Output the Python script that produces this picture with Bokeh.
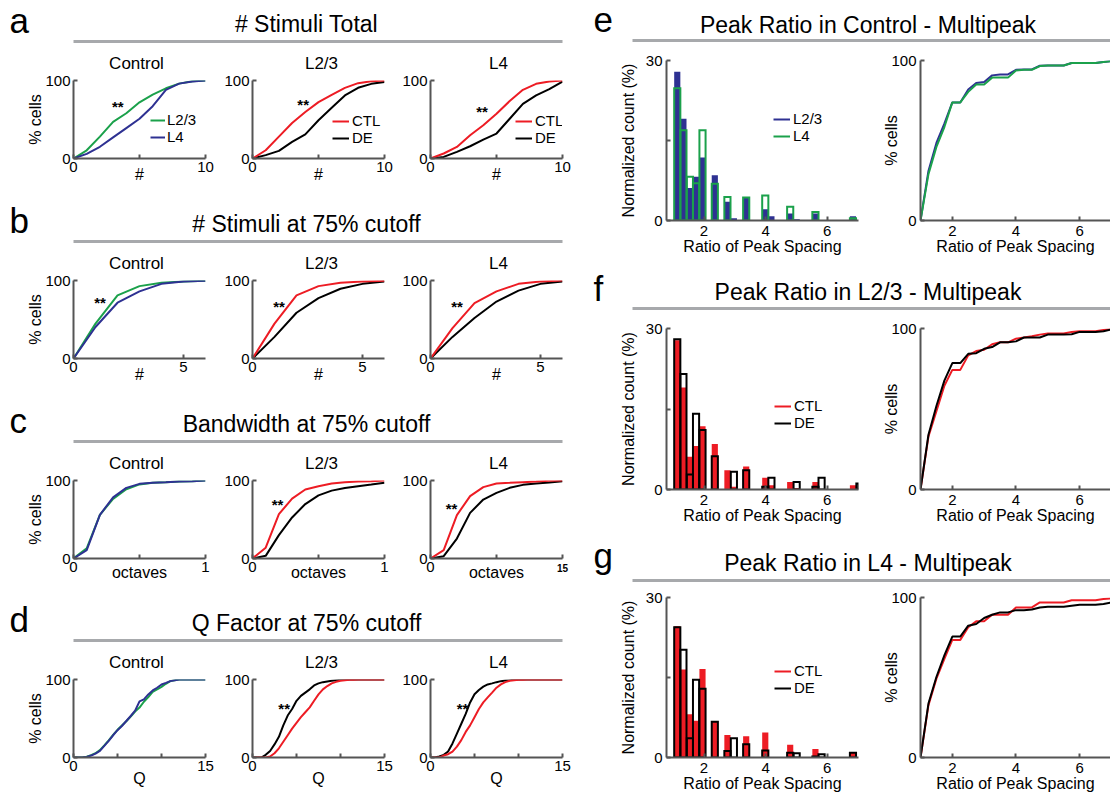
from bokeh.plotting import figure
from bokeh.layouts import row, column
from bokeh.models import Range1d, FixedTicker, Legend, LegendItem, Label, LinearAxis
from bokeh.core.properties import value
from bokeh.embed import file_html
from bokeh.resources import INLINE

FONT = "Liberation Sans"
RED = "#ED1C24"
BLUE = "#2E3192"
GREEN = "#1BA14B"
BLACK = "#000000"
AXIS = "#555555"
RULE = "#A7A9AC"
NAN = float("nan")

# ---------------------------------------------------------------- data
# a: number of stimuli, total
stim_x = [0, 1, 2, 3, 4, 5, 6, 7, 8, 9, 10]
a_ctrl_l23 = [0, 10.5, 28, 47, 58, 72, 82, 90, 96, 99, 100]
a_ctrl_l4 = [0, 6, 15, 27, 39, 51, 67, 88, 96, 98.7, 100]
a_l23_ctl = [0, 10.6, 28, 45.5, 59.6, 72.3, 81.7, 90.6, 96.6, 99, 100]
a_l23_de = [0, 4.3, 9.8, 21.3, 31, 49, 65, 80.9, 90.6, 95.7, 98]
a_l4_ctl = [0, 6.4, 14.9, 29.8, 42.6, 57.4, 73.6, 88, 95.7, 98.7, 100]
a_l4_de = [0, 2, 8.5, 15.7, 24.3, 32, 51, 70, 81, 89, 98.7]

# b: number of stimuli at 75% cutoff
cut_x = [0, 1, 2, 3, 4, 5, 6]
b_ctrl_l23 = [0, 44.7, 80.9, 92.8, 97, 98.7, 99.6]
b_ctrl_l4 = [0, 40.4, 71.5, 86, 95.7, 98.7, 99.6]
b_l23_ctl = [0, 44.7, 80.9, 92.8, 97, 98.7, 99.6]
b_l23_de = [0, 27.7, 58.7, 77.4, 89.4, 95.7, 98.7]
b_l4_ctl = [0, 39, 71, 86, 95.7, 98.7, 100]
b_l4_de = [0, 27.7, 52, 73, 87, 95.7, 98.7]

# c: bandwidth at 75% cutoff (octaves)
oct_x = [0, 0.1, 0.2, 0.3, 0.4, 0.5, 0.6, 0.7, 0.8, 0.9, 1.0]
c_ctrl_l23 = [0, 13, 56, 76.5, 88.8, 95, 97, 97.8, 98.7, 99.1, 100]
c_ctrl_l4 = [0, 10.8, 56, 78.4, 90.5, 95.7, 97, 97.8, 98.7, 99.1, 100]
c_l23_ctl = [0, 13.8, 56.9, 76.7, 88.4, 92.7, 96.1, 97.8, 98.7, 99.1, 100]
c_l23_de = [0, 3.4, 30, 52.6, 69.8, 81, 87, 90.5, 92.7, 94.8, 97]
c_l4_ctl = [0, 10.7, 55.6, 80, 91.5, 96.2, 97, 97.9, 98.7, 99.6, 100]
c_l4_de = [0, 3, 25.6, 58.5, 75.6, 84.2, 90.6, 94.4, 96, 97.4, 99]

# d: Q factor at 75% cutoff
q_x = [0, 0.5, 1, 1.5, 2, 2.5, 3, 3.5, 4, 4.5, 5, 5.5, 6, 6.5, 7, 7.5,
       8, 8.5, 9, 9.5, 10, 10.5, 11, 11.5, 12, 15]
d_ctrl_l23 = [0, 0, 0, 1, 3, 5.5, 9.5, 15.5, 22, 29, 35.5, 41, 46.5, 52.5,
              59, 64, 71.5, 77.4, 84.3, 87.2, 90.6, 94.5, 97.9, 99.1, 100, 100]
d_ctrl_l4 = [0, 0, 0, 0.8, 2.5, 5, 8.5, 14.9, 21.3, 28.5, 35, 40.4, 46.8, 53.2,
             60, 72, 74.5, 80.9, 86, 89.4, 93.6, 95.7, 97.9, 99.1, 100, 100]
d_l23_ctl = [0, 0, 0, 0, 1.3, 5.5, 11.8, 20.2, 28.6, 37, 44.5, 51.7, 58, 64.3,
             72.7, 81, 87.4, 91.6, 95, 97, 98.3, 99, 99.6, 99.8, 100, 100]
d_l23_de = [0, 0, 0, 3.4, 8.4, 16.8, 26.5, 41.2, 53.8, 62.2, 72.7, 79, 83.2, 87.4,
            92.4, 95, 96.6, 97.5, 98.3, 99, 99.6, 99.8, 100, 100, 100, 100]
d_l4_ctl = [0, 0, 0, 2.5, 4.2, 7.6, 13.9, 22.3, 32.8, 41.2, 51.7, 62.2, 70.6, 77,
            83.2, 89.5, 93.7, 96.6, 98.3, 99, 99.6, 99.8, 100, 100, 100, 100]
d_l4_de = [0, 0, 1.3, 3.4, 7.6, 18, 30.7, 43.3, 55.9, 70.6, 81, 86.6, 90.8, 93.7,
           95, 96.6, 97.9, 98.6, 99.2, 99.6, 100, 100, 100, 100, 100, 100]

# e-g: ratio of peak spacing, histogram bins and cumulative curves
bin_centers = [1.13, 1.33, 1.54, 1.74, 1.95, 2.15, 2.35, 2.56, 2.76, 2.97,
               3.17, 3.37, 3.58, 3.78, 3.99, 4.19, 4.39, 4.60, 4.80, 5.01,
               5.21, 5.41, 5.62, 5.82, 6.03, 6.23, 6.43, 6.64, 6.84, 7.05]
e_hist_l23 = [27.9, 19.1, 6.1, 8.2, 11.8, 0, 8.5, 0, 3.5, 0.4,
              0, 4.3, 0, 0, 2.1, 0.8, 0, 0, 1.3, 0.25,
              0, 0, 1.3, 0, 0, 0, 0, 0, 0.8, 0]
e_hist_l4 = [24.8, 16.9, 8.2, 7.0, 16.9, 0, 6.9, 0, 4.4, 0,
             0, 4.3, 0, 0, 4.7, 0, 0, 0, 2.6, 0,
             0, 0, 1.6, 0, 0, 0, 0, 0, 0.4, 0]
f_hist_ctl = [27.8, 19.0, 6.1, 8.1, 11.8, 0, 8.5, 0, 3.6, 0.5,
              0, 4.3, 0, 0, 2.2, 0.8, 0, 0, 1.4, 0.3,
              0, 0, 1.4, 0, 0, 0, 0, 0, 0.8, 0]
f_hist_de = [28.0, 21.5, 2.8, 14.1, 11.1, 0, 6.2, 0, 0, 3.3,
             0, 3.6, 0, 0, 0.5, 2.2, 0, 0, 0, 1.4,
             0, 0, 0.5, 2.2, 0, 0, 0, 0, 0, 1.1]
g_hist_ctl = [24.6, 16.5, 8.1, 6.9, 16.6, 0, 6.7, 0, 4.2, 0,
              0, 4.0, 0, 0, 4.7, 0, 0, 0, 2.4, 0,
              0, 0, 1.6, 0, 0, 0, 0, 0, 0.9, 0]
g_hist_de = [24.4, 20.2, 3.6, 14.6, 12.9, 0, 6.7, 0, 1.2, 3.6,
             0, 2.5, 0, 0, 1.3, 0, 0, 0, 0.9, 0.8,
             0, 0, 0.2, 0.6, 0, 0, 0, 0, 0.9, 0]

ratio_x = [1, 1.25, 1.5, 1.75, 2, 2.25, 2.5, 2.75, 3, 3.25, 3.5, 3.75, 4,
           4.25, 4.5, 4.75, 5, 5.25, 5.5, 5.75, 6, 6.25, 6.5, 6.75, 7]
e_cdf_l23 = [0, 31, 48.5, 60.5, 73.8, 73.8, 81.9, 86, 86.6, 90.7, 91.3, 91.3, 94.2,
             94.4, 94.4, 96.7, 96.9, 96.9, 96.9, 98.4, 98.4, 98.4, 98.4, 99, 99.6]
e_cdf_l4 = [0, 29, 46, 58.4, 73.8, 73.8, 80.4, 85, 85, 89.3, 89.3, 89.3, 93.8,
            94.2, 94.2, 96.5, 96.9, 96.9, 96.9, 98.4, 98.4, 98.4, 98.4, 99, 99.6]
f_cdf_ctl = [0, 33, 48.7, 64.4, 74.3, 74.3, 83.3, 86, 86.8, 90.2, 91.4, 91.4, 93.7,
             94.4, 95.2, 96.2, 96.9, 96.9, 96.9, 97.9, 98.3, 98.3, 98.3, 99, 99.6]
f_cdf_de = [0, 34, 51.9, 67.6, 78.5, 78.5, 84.3, 84.7, 87.4, 88.5, 91.4, 91.4, 92,
            94.4, 94.4, 94.4, 96.2, 96.2, 96.2, 96.4, 97.9, 97.9, 97.9, 98.3, 99.4]
g_cdf_ctl = [0, 32.7, 49.3, 61.7, 73.5, 73.5, 81.4, 85.1, 85.1, 89.2, 89.2, 89.2, 93.8,
             93.8, 93.8, 96.9, 96.9, 96.9, 96.9, 98.3, 98.3, 98.3, 98.3, 99, 99.4]
g_cdf_de = [0, 33.7, 50.3, 63.8, 75.6, 75.6, 82.4, 83.4, 87.2, 89.2, 90.7, 90.7, 92.1,
            92.1, 92.5, 93.8, 94.2, 94.2, 94.2, 94.8, 95.4, 95.4, 95.4, 95.9, 96.9]

BAR_W = 0.2


# ---------------------------------------------------------------- helpers
def base_fig(width, height, bl, br, bt, bb, xr, yr):
    p = figure(width=width, height=height, x_range=Range1d(*xr), y_range=Range1d(*yr),
               min_border_left=bl, min_border_right=br,
               min_border_top=bt, min_border_bottom=bb,
               toolbar_location=None, tools="", output_backend="svg")
    p.grid.visible = False
    p.outline_line_color = None
    p.background_fill_color = "white"
    p.border_fill_color = "white"
    return p


def style_axis(ax, major, minor, label, label_standoff, tick_standoff):
    ax.ticker = FixedTicker(ticks=major, minor_ticks=minor)
    if label:
        ax.axis_label = label
    ax.axis_label_standoff = label_standoff
    ax.major_label_standoff = tick_standoff
    ax.axis_line_color = AXIS
    ax.axis_line_width = 2
    ax.major_tick_line_color = AXIS
    ax.major_tick_line_width = 2
    ax.major_tick_in = 4
    ax.major_tick_out = 0
    ax.minor_tick_line_color = AXIS
    ax.minor_tick_line_width = 2
    ax.minor_tick_in = 4
    ax.minor_tick_out = 0
    ax.major_label_text_font = FONT
    ax.major_label_text_font_size = "15px"
    ax.major_label_text_color = "black"
    ax.axis_label_text_font = FONT
    ax.axis_label_text_font_size = "16px"
    ax.axis_label_text_font_style = "normal"
    ax.axis_label_text_color = "black"


def make_legend(p, labels, renderers, loc, glyph_w=15, standoff=2):
    leg = Legend(items=[LegendItem(label=l, renderers=[r]) for l, r in zip(labels, renderers)],
                 location=loc, orientation="vertical", border_line_color=None,
                 background_fill_alpha=0, padding=0, spacing=0, margin=0,
                 glyph_width=glyph_w, glyph_height=16, label_height=16,
                 label_standoff=standoff, label_text_font=FONT,
                 label_text_font_size="15px", label_text_color="black")
    p.add_layout(leg)


def stars(p, x, y):
    p.add_layout(Label(x=x, y=y, text="**", text_align="center", text_baseline="middle",
                       text_font=FONT, text_font_size="15px", text_font_style="bold",
                       y_offset=-4, text_color="black"))


def banner(width, height):
    # a plain drawing area in pixel units, y measured downward from the top
    p = figure(width=width, height=height, x_range=Range1d(0, width), y_range=Range1d(0, height),
               min_border=0, toolbar_location=None, tools="", output_backend="svg",
               x_axis_type=None, y_axis_type=None)
    p.grid.visible = False
    p.outline_line_color = None
    return p


def put_text(p, height, xs, ys, texts, size, align):
    p.text(x=xs, y=[height - y for y in ys], text=texts, text_font=value(FONT),
           text_font_size=size, text_baseline="middle", text_align=align,
           text_color="black")


def rule(p, height, x0, x1, y):
    p.segment(x0=[x0], y0=[height - y], x1=[x1], y1=[height - y],
              line_color=RULE, line_width=3)


# left block geometry: (figure width, left border, right border)
LCOLS = [(215, 73, 10), (178, 37, 9), (187, 37, 18)]
L_HEADER = 72


def left_header(letter, title):
    p = banner(580, L_HEADER)
    put_text(p, L_HEADER, [9], [19.6], [letter], "35px", "left")
    put_text(p, L_HEADER, [306], [23.5], [title], "23px", "center")
    rule(p, L_HEADER, 73, 562, 41)
    put_text(p, L_HEADER, [136, 321, 498], [63, 63, 63], ["Control", "L2/3", "L4"],
             "17px", "center")
    return p


def left_row(row_h, letter, title, x, x_end, major, minor, xlabel, xl_standoff,
             curves, star_pos, legends, fifteen=False):
    hdr = left_header(letter, title)
    ph = row_h - L_HEADER
    figs = []
    for i, (w, bl, br) in enumerate(LCOLS):
        p = base_fig(w, ph, bl, br, 8, ph - 8 - 78, (0, x_end), (0, 100))
        xmajor = major
        xminor = minor
        if fifteen and i == 2:
            xmajor = [0]
            xminor = [0.5, 1]
        style_axis(p.xaxis[0], xmajor, xminor, xlabel, xl_standoff, 3)
        style_axis(p.yaxis[0], [0, 100], [], "% cells" if i == 0 else None, -2, 3)
        (ya, ca), (yb, cb) = curves[i]
        r1 = p.line(x, ya, line_color=ca, line_width=2)
        r2 = p.line(x, yb, line_color=cb, line_width=2)
        if star_pos[i] is not None:
            stars(p, *star_pos[i])
        if legends[i] is not None:
            labels, loc, gw = legends[i]
            if ca == BLACK:
                make_legend(p, labels, [r2, r1], loc, gw, 3)
            else:
                make_legend(p, labels, [r1, r2], loc, gw, 2)
        if fifteen and i == 2:
            # small end label under the right end of the axis
            extra = LinearAxis(ticker=FixedTicker(ticks=[x_end]),
                               major_label_overrides={x_end: "15"},
                               axis_line_color=None, major_tick_line_color=None,
                               minor_tick_line_color=None,
                               major_label_text_font=FONT,
                               major_label_text_font_size="10px",
                               major_label_text_font_style="bold",
                               major_label_text_color="black",
                               major_label_standoff=-26)
            p.add_layout(extra, "below")
        figs.append(p)
    return column(hdr, row(*figs))


ctrl_leg = (["L2/3", "L4"], (77, 13), 15)
l23_leg = (["CTL", "DE"], (80, 12), 17)
l4_leg = (["CTL", "DE"], (85, 12), 17)

row_a = left_row(200, "a", "# Stimuli Total", stim_x, 10, [0, 10], [5], "#", -9,
                 [((a_ctrl_l23, GREEN), (a_ctrl_l4, BLUE)),
                  ((a_l23_de, BLACK), (a_l23_ctl, RED)),
                  ((a_l4_de, BLACK), (a_l4_ctl, RED))],
                 [(3.35, 72), (3.84, 74.5), (3.9, 65)],
                 [ctrl_leg, l23_leg, l4_leg])
row_b = left_row(200, "b", "# Stimuli at 75% cutoff", cut_x, 6, [0, 5], [], "#", -9,
                 [((b_ctrl_l23, GREEN), (b_ctrl_l4, BLUE)),
                  ((b_l23_de, BLACK), (b_l23_ctl, RED)),
                  ((b_l4_de, BLACK), (b_l4_ctl, RED))],
                 [(1.21, 76.6), (1.21, 72), (1.21, 72)],
                 [None, None, None])
row_c = left_row(199, "c", "Bandwidth at 75% cutoff", oct_x, 1, [0, 1], [0.5], "octaves", -11,
                 [((c_ctrl_l23, GREEN), (c_ctrl_l4, BLUE)),
                  ((c_l23_de, BLACK), (c_l23_ctl, RED)),
                  ((c_l4_de, BLACK), (c_l4_ctl, RED))],
                 [None, (0.19, 74), (0.16, 69)],
                 [None, None, None], fifteen=True)
row_d = left_row(200, "d", "Q Factor at 75% cutoff", q_x, 15, [0, 15], [5, 10], "Q", -4,
                 [((d_ctrl_l23, GREEN), (d_ctrl_l4, BLUE)),
                  ((d_l23_de, BLACK), (d_l23_ctl, RED)),
                  ((d_l4_de, BLACK), (d_l4_ctl, RED))],
                 [None, (3.6, 68.5), (3.65, 68.5)],
                 [None, None, None])

left_block = column(row_a, row_b, row_c, row_d)


def right_header(height, letter, letter_y, title, title_y, line_y):
    p = banner(530, height)
    put_text(p, height, [13], [letter_y], [letter], "35px", "left")
    put_text(p, height, [287.5], [title_y], [title], "23px", "center")
    rule(p, height, 52, 530, line_y)
    return p


def right_row(row_h, head_h, head_pos, bt, frame_h, letter, title,
              fill_vals, fill_color, edge_vals, edge_color, labels, leg_loc,
              cdf_first, cdf_second):
    letter_y, title_y, line_y = head_pos
    hdr = right_header(head_h, letter, letter_y, title, title_y, line_y)
    ph = row_h - head_h
    bb = ph - bt - frame_h
    # histogram of peak-spacing ratios
    h = base_fig(300, ph, 86, 22, bt, bb, (0.78, 7.02), (0, 30))
    style_axis(h.xaxis[0], [2, 4, 6], [], "Ratio of Peak Spacing", -1, 5)
    style_axis(h.yaxis[0], [0, 30], [15], "Normalized count (%)", 6, 4)
    fx = [c for c, v in zip(bin_centers, fill_vals) if v > 0]
    fv = [v for v in fill_vals if v > 0]
    ex = [c for c, v in zip(bin_centers, edge_vals) if v > 0]
    ev = [v for v in edge_vals if v > 0]
    h.vbar(x=fx, top=fv, bottom=0, width=BAR_W, fill_color=fill_color, line_color=None)
    h.vbar(x=ex, top=ev, bottom=0, width=BAR_W, fill_color=None, line_color=edge_color,
           line_width=2, line_join="miter")
    # legend keys drawn as short strokes
    k1 = h.line([NAN], [NAN], line_color=fill_color, line_width=2)
    k2 = h.line([NAN], [NAN], line_color=edge_color, line_width=2)
    make_legend(h, labels, [k1, k2], leg_loc, 17, 3)
    # cumulative distribution
    c = base_fig(230, ph, 39, 0, bt, bb, (1, 6.97), (0, 100))
    style_axis(c.xaxis[0], [2, 4, 6], [], "Ratio of Peak Spacing", -1, 5)
    style_axis(c.yaxis[0], [0, 100], [], "% cells", -12, 4)
    c.line(ratio_x, cdf_first[0], line_color=cdf_first[1], line_width=2)
    c.line(ratio_x, cdf_second[0], line_color=cdf_second[1], line_width=2)
    return column(hdr, row(h, c))


row_e = right_row(268, 50, (19.6, 24, 40), 10, 160, "e", "Peak Ratio in Control - Multipeak",
                  e_hist_l23, BLUE, e_hist_l4, GREEN, ["L2/3", "L4"], (107, 76),
                  (e_cdf_l23, BLUE), (e_cdf_l4, GREEN))
row_f = right_row(262, 50, (20, 23, 40), 10, 161, "f", "Peak Ratio in L2/3 - Multipeak",
                  f_hist_ctl, RED, f_hist_de, BLACK, ["CTL", "DE"], (108, 58),
                  (f_cdf_ctl, RED), (f_cdf_de, BLACK))
row_g = right_row(269, 60, (25, 32, 50), 7, 160, "g", "Peak Ratio in L4 - Multipeak",
                  g_hist_ctl, RED, g_hist_de, BLACK, ["CTL", "DE"], (108, 61),
                  (g_cdf_ctl, RED), (g_cdf_de, BLACK))

right_block = column(row_e, row_f, row_g)

page = row(left_block, right_block)
open("out.html", "w").write(file_html(page, INLINE, title="Tuning width and peak ratio"))
